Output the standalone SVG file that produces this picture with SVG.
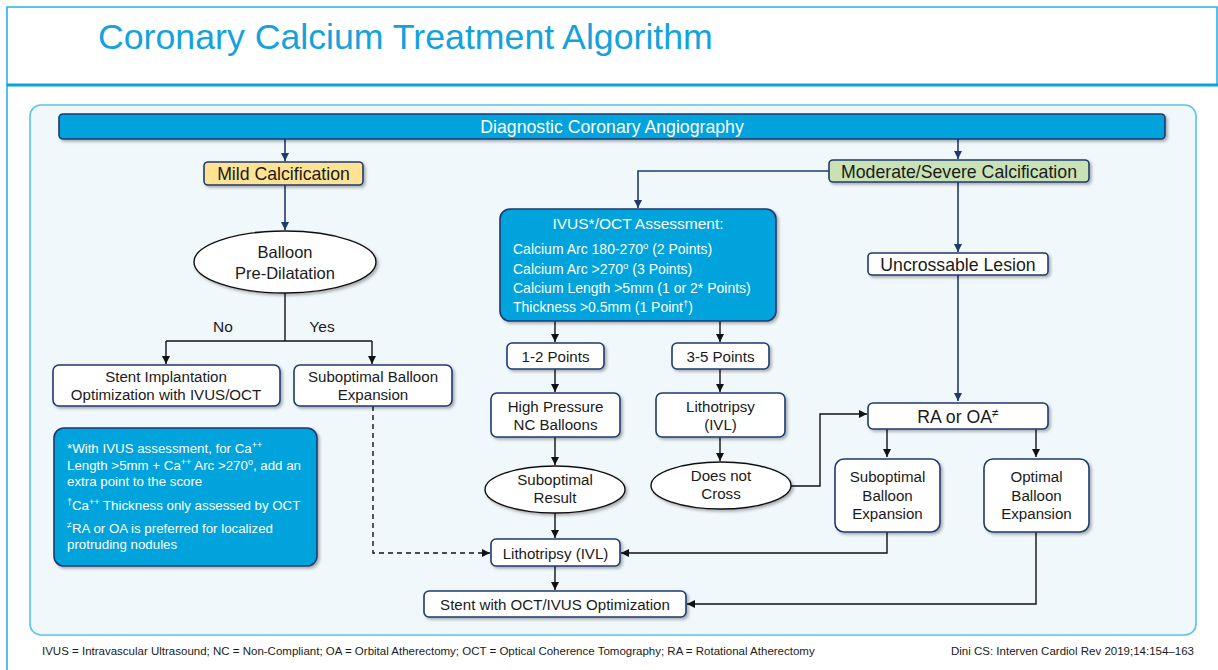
<svg xmlns="http://www.w3.org/2000/svg" width="1218" height="670" viewBox="0 0 1218 670">
<defs>
<style>
text{font-family:"Liberation Sans",Arial,sans-serif;fill:#1a1a1a}
.box{fill:#ffffff;stroke:#1f3a6e;stroke-width:1.6}
.blue{fill:#02a3db;stroke:#1f3a6e;stroke-width:1.6}
.ell{fill:#ffffff;stroke:#111;stroke-width:1.4}
.c{fill:none;stroke:#111;stroke-width:1.4}
.cn{fill:none;stroke:#1f3a6e;stroke-width:1.6}
.t16{font-size:17.7px;text-anchor:middle}
.t14{font-size:15.1px;text-anchor:middle}
.wt{fill:#ffffff}
.fn{font-size:13.3px;fill:#ffffff}
.iv{font-size:14px;fill:#ffffff}
.foot{font-size:11.5px;fill:#1a1a1a}
</style>
<filter id="sh" x="-10%" y="-10%" width="130%" height="140%">
<feDropShadow dx="2" dy="2" stdDeviation="1.5" flood-color="#000" flood-opacity="0.3"/>
</filter>
<marker id="ab" markerWidth="8" markerHeight="8" refX="8" refY="4" orient="auto" markerUnits="userSpaceOnUse">
<path d="M0,0 L8,4 L0,8 z" fill="#111"/>
</marker>
<marker id="an" markerWidth="8" markerHeight="8" refX="8" refY="4" orient="auto" markerUnits="userSpaceOnUse">
<path d="M0,0 L8,4 L0,8 z" fill="#1f3a6e"/>
</marker>
</defs>
<rect x="0" y="0" width="1218" height="670" fill="#ffffff"/>
<g id="frame">
<path d="M7,670 V7 H1217 V85" fill="none" stroke="#2bb1e4" stroke-width="1.6"/>
<line x1="7" y1="85" x2="1218" y2="85" stroke="#06a3dc" stroke-width="3"/>
<text x="98" y="49" style="font-size:35.7px;fill:#15a2dc">Coronary Calcium Treatment Algorithm</text>
<rect x="30" y="105" width="1166" height="530" rx="11" fill="#f1f8fc" stroke="#5cc2ea" stroke-width="1.6"/>
</g>
<g id="connectors">
<path class="cn" d="M285,139 V161" marker-end="url(#an)"/>
<path class="cn" d="M958,139 V159" marker-end="url(#an)"/>
<path class="cn" d="M285,185 V230" marker-end="url(#an)"/>
<path class="c" d="M285,293 V341"/>
<path class="c" d="M166,341 H372"/>
<path class="c" d="M166,341 V364" marker-end="url(#ab)"/>
<path class="c" d="M372,341 V364" marker-end="url(#ab)"/>
<path class="c" d="M373,406 V553 H490" stroke-dasharray="5,4" marker-end="url(#ab)"/>
<path class="cn" d="M829,171 H638 V208" marker-end="url(#an)"/>
<path class="cn" d="M958,182 V252" marker-end="url(#an)"/>
<path class="cn" d="M958,275 V401" marker-end="url(#an)"/>
<path class="c" d="M555,321 V342" marker-end="url(#ab)"/>
<path class="c" d="M720,321 V342" marker-end="url(#ab)"/>
<path class="c" d="M555,369 V392" marker-end="url(#ab)"/>
<path class="c" d="M720,369 V392" marker-end="url(#ab)"/>
<path class="c" d="M555,437 V465" marker-end="url(#ab)"/>
<path class="c" d="M720,437 V461" marker-end="url(#ab)"/>
<path class="c" d="M791,486 H820 V414 H867" marker-end="url(#ab)"/>
<path class="c" d="M887,429 V457" marker-end="url(#ab)"/>
<path class="c" d="M1036,429 V457" marker-end="url(#ab)"/>
<path class="c" d="M555,513 V538" marker-end="url(#ab)"/>
<path class="c" d="M887,532 V553 H621" marker-end="url(#ab)"/>
<path class="c" d="M555,566 V590" marker-end="url(#ab)"/>
<path class="c" d="M1036,532 V604 H687" marker-end="url(#ab)"/>
</g>
<g id="labels">
<text x="223" y="332" class="t14" style="font-size:15.5px">No</text>
<text x="322" y="332" class="t14" style="font-size:15.5px">Yes</text>
</g>
<g id="n-angio">
<rect x="59" y="114" width="1106" height="25" rx="4" class="blue" filter="url(#sh)"/>
<text x="612" y="132.5" class="t16 wt">Diagnostic Coronary Angiography</text>
</g>
<g id="n-mild">
<rect x="204" y="162" width="159" height="23" rx="4" fill="#ffe393" stroke="#1f3a6e" stroke-width="1.6" filter="url(#sh)"/>
<text x="283.5" y="180" class="t16">Mild Calcification</text>
</g>
<g id="n-moderate">
<rect x="829" y="160" width="260" height="22" rx="4" fill="#c8e2b6" stroke="#1f3a6e" stroke-width="1.6" filter="url(#sh)"/>
<text x="959" y="177.5" class="t16">Moderate/Severe Calcification</text>
</g>
<g id="n-balloon">
<ellipse cx="285" cy="262" rx="91" ry="31" class="ell" filter="url(#sh)"/>
<text x="285" y="258" class="t16" style="font-size:16.5px">Balloon</text>
<text x="285" y="279" class="t16" style="font-size:16.5px">Pre-Dilatation</text>
</g>
<g id="n-stent-impl">
<rect x="53" y="365" width="227" height="41" rx="6" class="box" filter="url(#sh)"/>
<text x="166" y="382" class="t14">Stent Implantation</text>
<text x="166" y="400" class="t14">Optimization with IVUS/OCT</text>
</g>
<g id="n-subopt-left">
<rect x="294" y="365" width="158" height="41" rx="6" class="box" filter="url(#sh)"/>
<text x="373" y="382" class="t14">Suboptimal Balloon</text>
<text x="373" y="400" class="t14">Expansion</text>
</g>
<g id="n-footnote">
<rect x="54" y="428" width="263" height="138" rx="10" class="blue" filter="url(#sh)"/>
<text x="67" y="453" class="fn">*With IVUS assessment, for Ca<tspan dy="-5" font-size="9">++</tspan></text>
<text x="67" y="470" class="fn">Length &gt;5mm + Ca<tspan dy="-5" font-size="9">++</tspan><tspan dy="5"> Arc &gt;270</tspan><tspan dy="-5" font-size="9">o</tspan><tspan dy="5">, add an</tspan></text>
<text x="67" y="486" class="fn">extra point to the score</text>
<text x="67" y="510" class="fn"><tspan dy="-5" font-size="9">†</tspan><tspan dy="5">Ca</tspan><tspan dy="-5" font-size="9">++</tspan><tspan dy="5"> Thickness only assessed by OCT</tspan></text>
<text x="67" y="533" class="fn"><tspan dy="-5" font-size="9">≠</tspan><tspan dy="5">RA or OA is preferred for localized</tspan></text>
<text x="67" y="549" class="fn">protruding nodules</text>
</g>
<g id="n-ivus">
<rect x="500" y="209" width="276" height="112" rx="10" class="blue" filter="url(#sh)"/>
<text x="638" y="229" class="wt" style="font-size:15.5px;text-anchor:middle">IVUS*/OCT Assessment:</text>
<text x="513" y="254" class="iv">Calcium Arc 180-270<tspan dy="-5" font-size="9.5">o</tspan><tspan dy="5"> (2 Points)</tspan></text>
<text x="513" y="273.5" class="iv">Calcium Arc &gt;270<tspan dy="-5" font-size="9.5">o</tspan><tspan dy="5"> (3 Points)</tspan></text>
<text x="513" y="293" class="iv">Calcium Length &gt;5mm (1 or 2* Points)</text>
<text x="513" y="312" class="iv">Thickness &gt;0.5mm (1 Point<tspan dy="-5" font-size="9.5">†</tspan><tspan dy="5">)</tspan></text>
</g>
<g id="n-uncrossable">
<rect x="868" y="253" width="180" height="22" rx="4" class="box" filter="url(#sh)"/>
<text x="958" y="270.5" class="t16">Uncrossable Lesion</text>
</g>
<g id="n-12points">
<rect x="507" y="343" width="97" height="26" rx="5" class="box" filter="url(#sh)"/>
<text x="555.5" y="361.5" class="t14">1-2 Points</text>
</g>
<g id="n-35points">
<rect x="672" y="343" width="97" height="26" rx="5" class="box" filter="url(#sh)"/>
<text x="720.5" y="361.5" class="t14">3-5 Points</text>
</g>
<g id="n-highpressure">
<rect x="491" y="393" width="129" height="44" rx="6" class="box" filter="url(#sh)"/>
<text x="555.5" y="412" class="t14">High Pressure</text>
<text x="555.5" y="430" class="t14">NC Balloons</text>
</g>
<g id="n-litho-top">
<rect x="656" y="393" width="129" height="44" rx="6" class="box" filter="url(#sh)"/>
<text x="720.5" y="412" class="t14">Lithotripsy</text>
<text x="720.5" y="430" class="t14">(IVL)</text>
</g>
<g id="n-subresult">
<ellipse cx="555" cy="489.5" rx="70" ry="23.5" class="ell" filter="url(#sh)"/>
<text x="555" y="485" class="t14">Suboptimal</text>
<text x="555" y="503" class="t14">Result</text>
</g>
<g id="n-doesnotcross">
<ellipse cx="721" cy="485.5" rx="70" ry="23.5" class="ell" filter="url(#sh)"/>
<text x="721" y="481" class="t14">Does not</text>
<text x="721" y="499" class="t14">Cross</text>
</g>
<g id="n-raoa">
<rect x="868" y="403" width="180" height="26" rx="5" class="box" filter="url(#sh)"/>
<text x="958" y="422.5" class="t16">RA or OA<tspan dy="-6" font-size="12">≠</tspan></text>
</g>
<g id="n-subopt-right">
<rect x="835" y="459" width="105" height="73" rx="9" class="box" filter="url(#sh)"/>
<text x="887.5" y="482" class="t14">Suboptimal</text>
<text x="887.5" y="501" class="t14">Balloon</text>
<text x="887.5" y="519" class="t14">Expansion</text>
</g>
<g id="n-optimal">
<rect x="984" y="459" width="105" height="73" rx="9" class="box" filter="url(#sh)"/>
<text x="1036.5" y="482" class="t14">Optimal</text>
<text x="1036.5" y="501" class="t14">Balloon</text>
<text x="1036.5" y="519" class="t14">Expansion</text>
</g>
<g id="n-litho-bottom">
<rect x="491" y="539" width="129" height="27" rx="5" class="box" filter="url(#sh)"/>
<text x="555.5" y="559" class="t14">Lithotripsy (IVL)</text>
</g>
<g id="n-stent-final">
<rect x="424" y="591" width="262" height="26" rx="5" class="box" filter="url(#sh)"/>
<text x="555" y="609.5" class="t14">Stent with OCT/IVUS Optimization</text>
</g>
<g id="footer">
<text x="42" y="655" class="foot">IVUS = Intravascular Ultrasound; NC = Non-Compliant; OA = Orbital Atherectomy; OCT = Optical Coherence Tomography; RA = Rotational Atherectomy</text>
<text x="951" y="655" class="foot">Dini CS: Interven Cardiol Rev 2019;14:154–163</text>
</g>
</svg>
